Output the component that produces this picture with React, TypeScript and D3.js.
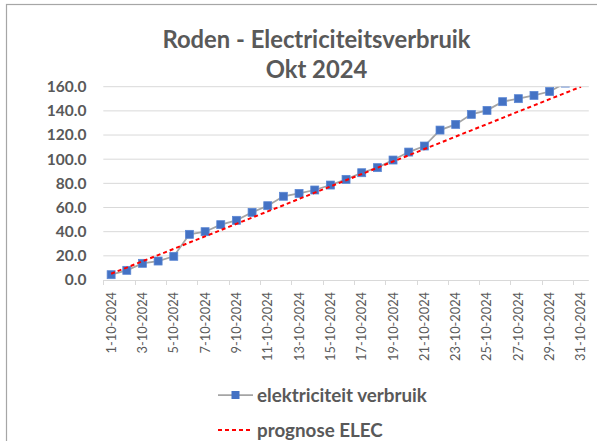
import React, { useEffect, useRef } from "react";
import * as d3 from "d3";

const dates = d3.range(1, 32).map((d) => `${d}-10-2024`);

const verbruik = [
  4.4, 8.0, 13.8, 15.7, 19.6, 37.8, 40.0, 45.8, 49.4, 56.0, 61.5, 69.3, 71.7,
  74.5, 78.6, 83.3, 88.8, 93.0, 99.3, 105.9, 110.9, 124.1, 128.8, 137.1, 140.4,
  147.6, 150.1, 152.8, 156.0, 163.0,
];

const prognose = [
  5.2, 10.3, 15.5, 20.6, 25.8, 31.0, 36.1, 41.3, 46.5, 51.6, 56.8, 61.9, 67.1,
  72.3, 77.4, 82.6, 87.7, 92.9, 98.1, 103.2, 108.4, 113.5, 118.7, 123.9, 129.0,
  134.2, 139.4, 144.5, 149.7, 154.8, 160.0,
];

const yTicks = [0, 20, 40, 60, 80, 100, 120, 140, 160];

const seriesNames = ["elektriciteit verbruik", "prognose ELEC"];

const W = 597;
const H = 441;
const FONT = "Lato, 'Open Sans', sans-serif";
const TEXT = "#595959";
const GRID = "#d9d9d9";
const BLUE = "#4472c4";

export default function App() {
  const ref = useRef<SVGSVGElement>(null);

  useEffect(() => {
    const svg = d3.select(ref.current);
    svg.selectAll("*").remove();

    const left = 103.3;
    const right = 588.8;
    const top = 86.7;
    const bottom = 280;

    const x = d3.scaleBand().domain(dates).range([left, right]).padding(0);
    const y = d3.scaleLinear().domain([0, 160]).range([bottom, top]);
    const cx = (d: string) => (x(d) as number) + x.bandwidth() / 2;

    // chart border
    svg
      .append("rect")
      .attr("x", 6.5)
      .attr("y", 4.5)
      .attr("width", 620)
      .attr("height", 460)
      .attr("fill", "#fff")
      .attr("stroke", "#a6a6a6")
      .attr("stroke-width", 1.2);

    // title
    const title = svg
      .append("text")
      .attr("text-anchor", "middle")
      .attr("font-family", FONT)
      .attr("font-weight", 700)
      .attr("font-size", 23.8)
      .attr("fill", TEXT);
    title.append("tspan").attr("x", 316.5).attr("y", 47.5).text("Roden - Electriciteitsverbruik");
    title.append("tspan").attr("x", 316.5).attr("y", 77.5).text("Okt 2024");

    // gridlines
    svg
      .append("g")
      .selectAll("line")
      .data(yTicks.slice(1))
      .join("line")
      .attr("x1", left)
      .attr("x2", right)
      .attr("y1", (d) => y(d))
      .attr("y2", (d) => y(d))
      .attr("stroke", GRID)
      .attr("stroke-width", 1);

    // y axis labels
    svg
      .append("g")
      .selectAll("text")
      .data(yTicks)
      .join("text")
      .attr("x", 86.5)
      .attr("y", (d) => y(d))
      .attr("dy", "0.35em")
      .attr("text-anchor", "end")
      .attr("font-family", FONT)
      .attr("font-weight", 700)
      .attr("font-size", 15.5)
      .attr("fill", TEXT)
      .text((d) => d.toFixed(1));

    // x axis
    const xAxis = d3
      .axisBottom(x)
      .tickValues(dates.filter((_, i) => i % 2 === 0))
      .tickSize(0)
      .tickPadding(0);
    const gx = svg.append("g").attr("transform", `translate(0,${bottom})`).call(xAxis);
    gx.select(".domain").attr("stroke", GRID).attr("d", `M${left},0.5H${right}`);
    gx.selectAll(".tick line").remove();
    gx.selectAll(".tick text")
      .attr("transform", "rotate(-90)")
      .attr("x", -12)
      .attr("y", 0)
      .attr("dy", "0.35em")
      .attr("text-anchor", "end")
      .attr("font-family", FONT)
      .attr("font-size", 12.8)
      .attr("fill", TEXT);

    // tick marks at category boundaries
    svg
      .append("g")
      .selectAll("line")
      .data(dates.filter((_, i) => i % 2 === 0))
      .join("line")
      .attr("x1", (d) => Math.round(x(d) as number) + 0.5)
      .attr("x2", (d) => Math.round(x(d) as number) + 0.5)
      .attr("y1", bottom)
      .attr("y2", bottom + 5)
      .attr("stroke", GRID);

    // clip to plot area
    svg
      .append("clipPath")
      .attr("id", "plot")
      .append("rect")
      .attr("x", left)
      .attr("y", top)
      .attr("width", right - left)
      .attr("height", bottom - top + 6);

    const plot = svg.append("g").attr("clip-path", "url(#plot)");

    const line = d3
      .line<number>()
      .x((_, i) => cx(dates[i]))
      .y((d) => y(d));

    plot
      .append("path")
      .datum(verbruik)
      .attr("d", line)
      .attr("fill", "none")
      .attr("stroke", "#a5a5a5")
      .attr("stroke-width", 1.75);

    plot
      .append("g")
      .selectAll("rect")
      .data(verbruik)
      .join("rect")
      .attr("x", (_, i) => cx(dates[i]) - 4)
      .attr("y", (d) => y(d) - 4)
      .attr("width", 8)
      .attr("height", 8)
      .attr("fill", BLUE)
      .attr("stroke", "#5b87d4")
      .attr("stroke-width", 0.75);

    plot
      .append("path")
      .datum(prognose)
      .attr("d", line)
      .attr("fill", "none")
      .attr("stroke", "#ff0000")
      .attr("stroke-width", 2)
      .attr("stroke-dasharray", "4,3");

    // legend
    const legend = svg.append("g");
    const rows = [395, 430];
    rows.forEach((ly, i) => {
      const g = legend.append("g");
      if (i === 0) {
        g.append("line")
          .attr("x1", 218)
          .attr("x2", 253)
          .attr("y1", ly)
          .attr("y2", ly)
          .attr("stroke", "#a5a5a5")
          .attr("stroke-width", 1.75);
        g.append("rect")
          .attr("x", 235.5 - 4)
          .attr("y", ly - 4)
          .attr("width", 8)
          .attr("height", 8)
          .attr("fill", BLUE);
      } else {
        g.append("line")
          .attr("x1", 218)
          .attr("x2", 253)
          .attr("y1", ly)
          .attr("y2", ly)
          .attr("stroke", "#ff0000")
          .attr("stroke-width", 2)
          .attr("stroke-dasharray", "4,3");
      }
      g.append("text")
        .attr("x", 257)
        .attr("y", ly)
        .attr("dy", "0.35em")
        .attr("font-family", FONT)
        .attr("font-weight", 700)
        .attr("font-size", 18.8)
        .attr("fill", TEXT)
        .text(seriesNames[i]);
    });
  }, []);

  return (
    <svg
      ref={ref}
      width={W}
      height={H}
      style={{ position: "absolute", left: 0, top: 0, background: "#fff" }}
    ></svg>
  );
}
